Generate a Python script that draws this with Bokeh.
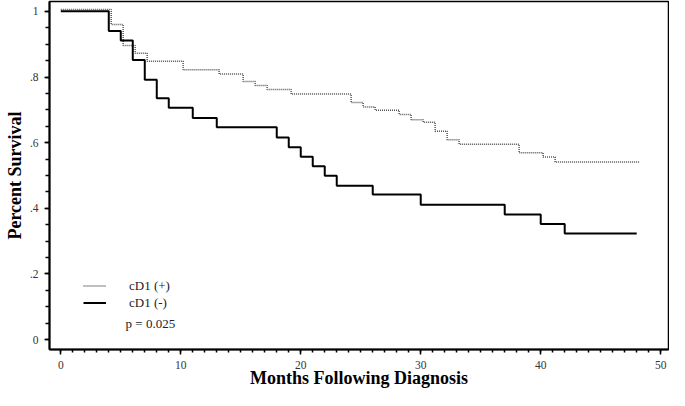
from bokeh.plotting import figure
from bokeh.models import Range1d, FixedTicker, Legend, LegendItem, Label
from bokeh.embed import file_html
from bokeh.resources import INLINE

# cD1 (-) Kaplan-Meier steps
months_neg = [0, 4, 5, 6, 7, 8, 9, 11, 13, 18, 19, 20, 21, 22, 23, 26, 30, 37, 40, 42, 48]
surv_neg = [1.0, 0.940, 0.911, 0.852, 0.792, 0.735, 0.706, 0.675, 0.647, 0.616, 0.586,
            0.557, 0.528, 0.499, 0.469, 0.442, 0.411, 0.381, 0.352, 0.323, 0.323]

# cD1 (+) Kaplan-Meier steps
months_pos = [0, 4.2, 5.2, 6.2, 7.2, 10.2, 13.2, 15.2, 16.2, 17.2, 19.2, 24.2, 25.2, 26.2,
              28.2, 29.2, 30.2, 31.2, 32.2, 33.2, 38.2, 40.2, 41.2, 48.2]
surv_pos = [1.006, 0.960, 0.896, 0.872, 0.848, 0.822, 0.809, 0.786, 0.774, 0.762, 0.748,
            0.722, 0.709, 0.699, 0.686, 0.670, 0.662, 0.635, 0.609, 0.595, 0.569, 0.556,
            0.541, 0.541]

x_ticks = [0, 10, 20, 30, 40, 50]
x_minor = list(range(0, 51))
y_ticks = [0, 0.2, 0.4, 0.6, 0.8, 1.0]
y_tick_labels = ["0", ".2", ".4", ".6", ".8", "1"]
y_minor = [round(i * 0.05, 2) for i in range(0, 21)]

legend_labels = ["cD1 (+)", "cD1 (-)"]
p_value_text = "p = 0.025"
x_title = "Months Following Diagnosis"
y_title = "Percent Survival"

SERIF = "Liberation Serif"

p = figure(width=669, height=390, output_backend="svg", toolbar_location=None,
           x_range=Range1d(-0.94, 50.65), y_range=Range1d(-0.03, 1.03),
           min_border_left=49, min_border_right=1, min_border_top=1, min_border_bottom=30)

p.xgrid.visible = False
p.ygrid.visible = False
p.outline_line_color = "black"
p.outline_line_width = 1.5
p.background_fill_color = "white"
p.border_fill_color = "white"

r_pos = p.step(months_pos, surv_pos, mode="after", line_color="#555555", line_width=1.5,
               line_dash="1 1")
r_neg = p.step(months_neg, surv_neg, mode="after", line_color="black", line_width=2)

# axes
for ax in (p.xaxis[0], p.yaxis[0]):
    ax.axis_line_color = "black"
    ax.axis_line_width = 2
    ax.major_tick_line_color = "black"
    ax.minor_tick_line_color = "black"
    ax.major_tick_line_width = 1.5
    ax.minor_tick_line_width = 1.5
    ax.major_tick_in = 0
    ax.minor_tick_in = 0
    ax.major_label_text_font = SERIF
    ax.major_label_text_font_size = "11.5px"
    ax.major_label_text_color = "#333333"
    ax.axis_label_text_font = SERIF
    ax.axis_label_text_font_style = "bold"
    ax.axis_label_text_color = "black"

p.xaxis.ticker = FixedTicker(ticks=x_ticks, minor_ticks=x_minor)
p.yaxis.ticker = FixedTicker(ticks=y_ticks, minor_ticks=y_minor)
p.yaxis.major_label_overrides = {t: l for t, l in zip(y_ticks, y_tick_labels)}
p.xaxis.major_tick_out = 5
p.xaxis.minor_tick_out = 3
p.yaxis.major_tick_out = 5
p.yaxis.minor_tick_out = 4
p.xaxis.major_label_standoff = 6
p.yaxis.major_label_standoff = 6
p.xaxis.axis_label = x_title
p.xaxis.axis_label_text_font_size = "18px"
p.xaxis.axis_label_standoff = -4
p.yaxis.axis_label = y_title
p.yaxis.axis_label_text_font_size = "18px"
p.yaxis.axis_label_standoff = 2

legend = Legend(items=[LegendItem(label=legend_labels[0], renderers=[r_pos]),
                       LegendItem(label=legend_labels[1], renderers=[r_neg])],
                location=(34, 38), glyph_width=23, glyph_height=17, label_standoff=23,
                spacing=0, padding=0, margin=0, border_line_color=None,
                background_fill_alpha=0, label_text_font=SERIF,
                label_text_font_size="13px", label_text_color="#222222",
                label_height=17)
p.add_layout(legend, "center")

p.add_layout(Label(x=5.4, y=0.05, text=p_value_text, text_font=SERIF,
                   text_font_size="13px", text_color="#222222", text_baseline="middle"))

open("out.html", "w").write(file_html(p, INLINE))
